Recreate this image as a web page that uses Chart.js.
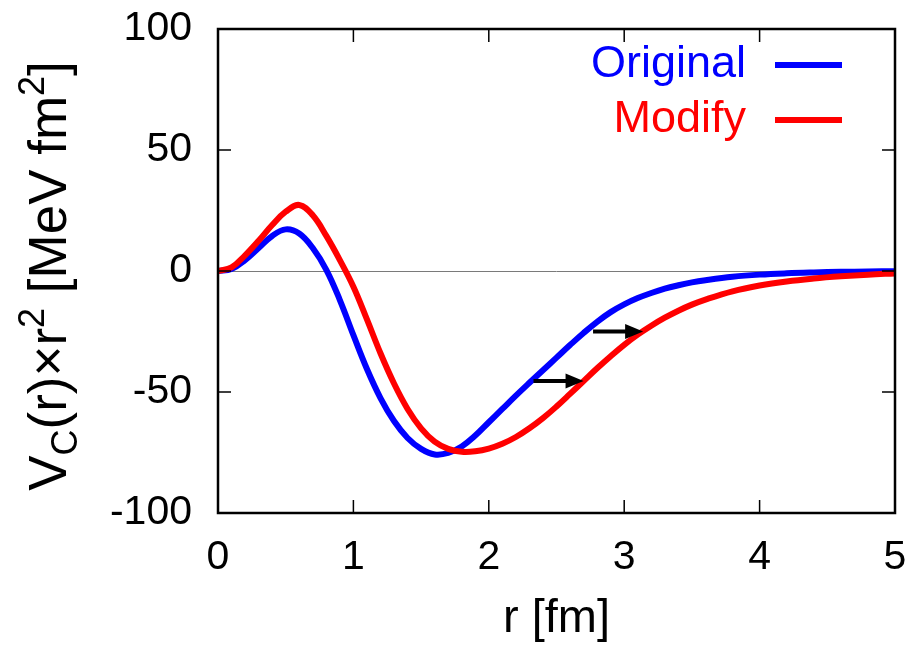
<!DOCTYPE html>
<html>
<head>
<meta charset="utf-8">
<script src="https://cdn.jsdelivr.net/npm/chart.js@4"></script>
<style>
  body { margin: 0; background: #fff; }
  #wrap { width: 919px; height: 647px; }
</style>
</head>
<body>
<div id="wrap"><canvas id="potChart"></canvas></div>
<script>
// r grid [fm] and V_C(r) * r^2 [MeV fm^2]
const rValues = [0, 0.1, 0.2, 0.3, 0.4, 0.5, 0.6, 0.7, 0.8, 0.9, 1.0, 1.1, 1.2, 1.3, 1.4, 1.5, 1.6, 1.7, 1.8, 1.9,
    2.0, 2.1, 2.2, 2.3, 2.4, 2.5, 2.6, 2.7, 2.8, 2.9, 3.0, 3.1, 3.2, 3.3, 3.4, 3.5, 3.6, 3.8, 4.0, 4.2, 4.4, 4.6, 4.8, 5.0];
const originalValues = [0, 0.8, 4.5, 9.5, 14.5, 17.2, 15.5, 9.5, 0.5, -12, -26.5, -40.5, -52.5, -62, -69, -73.5, -75.8, -75.2, -72.5, -68,
    -62.5, -57, -51.5, -46.2, -41, -35.8, -30.6, -25.6, -21, -17, -13.8, -11.2, -9.1, -7.3, -5.9, -4.7, -3.8, -2.4, -1.5, -0.95, -0.6, -0.35, -0.2, -0.1];
const modifyValues = [0, 1.5, 6.5, 12.5, 19, 24.5, 27.3, 23, 14.5, 4.5, -6.5, -20, -34, -46.5, -57, -65, -70.5, -73.5, -74.7, -74.5,
    -73.4, -71.4, -68.6, -65, -60.8, -56, -50.8, -45.5, -40.2, -35.2, -30.5, -26.3, -22.6, -19.3, -16.4, -13.9, -11.8, -8.4, -6, -4.3, -3.1, -2.2, -1.5, -1.0];

// arrows showing the outward shift
const arrowFromR = [2.33, 2.77];
const arrowToR = [2.70, 3.14];
const arrowV = [-45.5, -25];

const xTicks = [0, 1, 2, 3, 4, 5];
const yTicks = [-100, -50, 0, 50, 100];
const seriesNames = ['Original', 'Modify'];
const seriesColors = ['#0000ff', '#ff0000'];

const FONT = '"Liberation Sans", Arial, Helvetica, sans-serif';

function toPoints(ys) {
    return rValues.map((r, i) => ({ x: r, y: ys[i] }));
}

// frame, inward ticks, arrows, legend and y title
const decorations = {
    id: 'decorations',
    afterDatasetsDraw(chart) {
        const ctx = chart.ctx;
        const xs = chart.scales.x, ys = chart.scales.y;
        ctx.save();
        ctx.fillStyle = '#000';
        ctx.strokeStyle = '#000';
        ctx.lineWidth = 4;
        for (let i = 0; i < arrowV.length; i++) {
            const x0 = xs.getPixelForValue(arrowFromR[i]);
            const x1 = xs.getPixelForValue(arrowToR[i]);
            const y = ys.getPixelForValue(arrowV[i]);
            ctx.beginPath();
            ctx.moveTo(x0, y);
            ctx.lineTo(x1 - 16, y);
            ctx.stroke();
            ctx.beginPath();
            ctx.moveTo(x1, y);
            ctx.lineTo(x1 - 18, y - 7.5);
            ctx.lineTo(x1 - 18, y + 7.5);
            ctx.closePath();
            ctx.fill();
        }

        // legend: text right aligned, line sample after it
        ctx.font = '45px ' + FONT;
        ctx.textAlign = 'right';
        ctx.textBaseline = 'middle';
        const legendY = [65, 120];
        seriesNames.forEach((name, i) => {
            ctx.fillStyle = seriesColors[i];
            ctx.fillText(name, 746, legendY[i]);
            ctx.strokeStyle = seriesColors[i];
            ctx.lineWidth = 6;
            ctx.beginPath();
            ctx.moveTo(775, legendY[i]);
            ctx.lineTo(842, legendY[i]);
            ctx.stroke();
        });
        ctx.restore();
    },
    afterDraw(chart) {
        const ctx = chart.ctx;
        const a = chart.chartArea;
        const xs = chart.scales.x, ys = chart.scales.y;
        ctx.save();
        ctx.strokeStyle = '#000';
        ctx.lineWidth = 1.5;
        const tl = 13;
        ctx.beginPath();
        xTicks.forEach(v => {
            const px = xs.getPixelForValue(v);
            ctx.moveTo(px, a.bottom); ctx.lineTo(px, a.bottom - tl);
            ctx.moveTo(px, a.top); ctx.lineTo(px, a.top + tl);
        });
        yTicks.forEach(v => {
            const py = ys.getPixelForValue(v);
            ctx.moveTo(a.left, py); ctx.lineTo(a.left + tl, py);
            ctx.moveTo(a.right, py); ctx.lineTo(a.right - tl, py);
        });
        ctx.stroke();
        ctx.lineWidth = 2.5;
        ctx.strokeRect(a.left, a.top, a.right - a.left, a.bottom - a.top);

        // y title with subscript and superscripts
        const parts = [
            { t: 'V', s: 53, dy: 0 },
            { t: 'C', s: 36, dy: 11 },
            { t: '(r)\u00d7r', s: 53, dy: 0 },
            { t: '2', s: 36, dy: -22 },
            { t: ' [MeV fm', s: 53, dy: 0 },
            { t: '2', s: 36, dy: -22 },
            { t: ']', s: 53, dy: 0 }
        ];
        let total = 0;
        parts.forEach(p => { ctx.font = p.s + 'px ' + FONT; p.w = ctx.measureText(p.t).width; total += p.w; });
        ctx.translate(66, 276);
        ctx.rotate(-Math.PI / 2);
        ctx.fillStyle = '#000';
        ctx.textAlign = 'left';
        ctx.textBaseline = 'alphabetic';
        let cx = -total / 2;
        parts.forEach(p => {
            ctx.font = p.s + 'px ' + FONT;
            ctx.fillText(p.t, cx, p.dy);
            cx += p.w;
        });
        ctx.restore();
    }
};

const chart = new Chart(document.getElementById('potChart').getContext('2d'), {
    type: 'scatter',
    data: {
        datasets: [
            {
                label: seriesNames[1],
                data: toPoints(modifyValues),
                borderColor: seriesColors[1],
                showLine: true,
                borderWidth: 6,
                pointRadius: 0,
                tension: 0.4,
                order: 0
            },
            {
                label: seriesNames[0],
                data: toPoints(originalValues),
                borderColor: seriesColors[0],
                showLine: true,
                borderWidth: 6,
                pointRadius: 0,
                tension: 0.4,
                order: 1
            }
        ]
    },
    options: {
        responsive: true,
        maintainAspectRatio: false,
        animation: false,
        layout: { padding: { top: 29, right: 24, left: 0, bottom: 0 } },
        plugins: {
            legend: { display: false },
            tooltip: { enabled: false }
        },
        scales: {
            x: {
                type: 'linear',
                min: 0,
                max: 5,
                afterFit(scale) {
                    scale.height = 134;
                    scale.paddingLeft = 0;
                    scale.paddingRight = 0;
                },
                afterBuildTicks(scale) { scale.ticks = xTicks.map(v => ({ value: v })); },
                grid: { display: false, drawTicks: false },
                border: { display: false },
                ticks: {
                    color: '#000',
                    padding: 20,
                    font: { family: FONT, size: 41 }
                },
                title: {
                    display: true,
                    text: 'r [fm]',
                    color: '#000',
                    padding: { top: 0, bottom: 0 },
                    font: { family: FONT, size: 47 }
                }
            },
            y: {
                min: -100,
                max: 100,
                afterFit(scale) {
                    scale.width = 218;
                    scale.paddingTop = 0;
                    scale.paddingBottom = 0;
                },
                afterBuildTicks(scale) { scale.ticks = yTicks.map(v => ({ value: v })); },
                grid: {
                    drawTicks: false,
                    lineWidth: 1,
                    color: c => (c.tick && c.tick.value === 0) ? '#7a7a7a' : 'rgba(0,0,0,0)'
                },
                border: { display: false },
                ticks: {
                    color: '#000',
                    padding: 26,
                    font: { family: FONT, size: 41 }
                }
            }
        }
    },
    plugins: [decorations]
});
</script>
</body>
</html>
